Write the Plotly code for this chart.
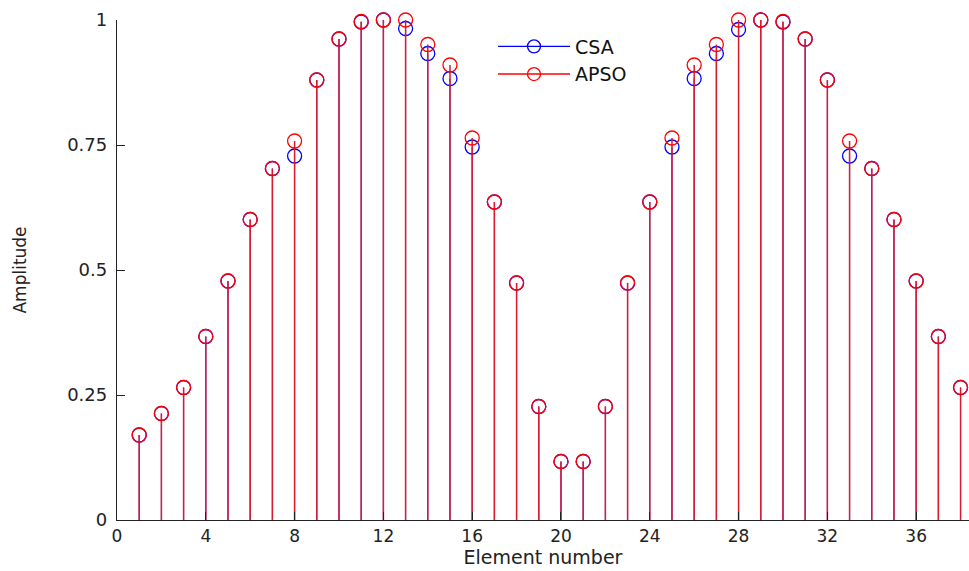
import plotly.graph_objects as go

# Element numbers visible in the chart
elements = list(range(1, 39))

# APSO amplitudes (red)
apso = [0.170, 0.213, 0.265, 0.367, 0.478, 0.601, 0.703, 0.758, 0.880, 0.962,
        0.997, 1.000, 1.000, 0.951, 0.910, 0.764, 0.636, 0.474, 0.227, 0.117,
        0.117, 0.227, 0.474, 0.636, 0.764, 0.910, 0.951, 1.000, 1.000, 0.997,
        0.962, 0.880, 0.758, 0.703, 0.601, 0.478, 0.367, 0.265]

# CSA amplitudes (blue)
csa = [0.170, 0.213, 0.265, 0.367, 0.478, 0.601, 0.703, 0.728, 0.880, 0.962,
       0.996, 1.000, 0.983, 0.933, 0.883, 0.746, 0.636, 0.474, 0.227, 0.117,
       0.117, 0.227, 0.474, 0.636, 0.746, 0.883, 0.933, 0.981, 1.000, 0.996,
       0.962, 0.880, 0.728, 0.703, 0.601, 0.478, 0.367, 0.265]

x_ticks = [0, 4, 8, 12, 16, 20, 24, 28, 32, 36]
y_ticks = [0, 0.25, 0.5, 0.75, 1]
y_tick_text = ["0", "0.25", "0.5", "0.75", "1"]

FONT = "DejaVu Sans"


def stem_xy(xs, ys):
    sx, sy = [], []
    for a, b in zip(xs, ys):
        sx += [a, a, None]
        sy += [0, b, None]
    return sx, sy


fig = go.Figure()

series = [
    ("CSA", csa, "#0000ff", "#0000ff", 1.0),
    ("APSO", apso, "#ff0000", "rgb(218,26,48)", 1.5),
]

for name, vals, col, stemcol, sw in series:
    sx, sy = stem_xy(elements, vals)
    fig.add_trace(go.Scatter(x=sx, y=sy, mode="lines",
                             line=dict(color=stemcol, width=sw),
                             showlegend=False, hoverinfo="skip",
                             cliponaxis=False))
    fig.add_trace(go.Scatter(x=elements, y=vals, mode="markers",
                             marker=dict(symbol="circle-open", size=14,
                                         color=col, line=dict(width=1.3, color=col)),
                             showlegend=False, name=name, cliponaxis=False))

# legend entries
for name, vals, col, stemcol, sw in series:
    fig.add_trace(go.Scatter(x=[None], y=[None], mode="lines+markers", name=name,
                             line=dict(color=col, width=1.4),
                             marker=dict(symbol="circle-open", size=13, color=col,
                                         line=dict(width=1.3, color=col))))

fig.update_layout(
    width=969, height=571,
    margin=dict(l=117, r=0, t=20, b=51),
    paper_bgcolor="white", plot_bgcolor="white",
    font=dict(family=FONT, size=18, color="#222"),
    showlegend=True,
    legend=dict(x=(493 - 117) / 852, y=0.985, xanchor="left", yanchor="top",
                bgcolor="rgba(0,0,0,0)", borderwidth=0,
                font=dict(family=FONT, size=19, color="#111"),
                itemwidth=72, tracegroupgap=0),
    xaxis=dict(range=[0, 38.38], tickmode="array", tickvals=x_ticks,
               ticks="inside", ticklen=8, tickcolor="#222",
               showline=True, linecolor="#222", linewidth=1.3,
               showgrid=False, zeroline=False, mirror=False,
               ticklabelstandoff=0,
               tickfont=dict(family=FONT, size=17, color="#222"),
               title=dict(text="Element number", standoff=5,
                          font=dict(family=FONT, size=19, color="#222"))),
    yaxis=dict(range=[0, 1], tickmode="array", tickvals=y_ticks, ticktext=y_tick_text,
               ticks="inside", ticklen=8, tickcolor="#222",
               showline=True, linecolor="#222", linewidth=1.3,
               showgrid=False, zeroline=False, mirror=False,
               ticklabelstandoff=5,
               tickfont=dict(family=FONT, size=18, color="#222"),
               title=dict(text="Amplitude", standoff=36,
                          font=dict(family=FONT, size=17, color="#222"))),
)

fig.write_html("out.html")
